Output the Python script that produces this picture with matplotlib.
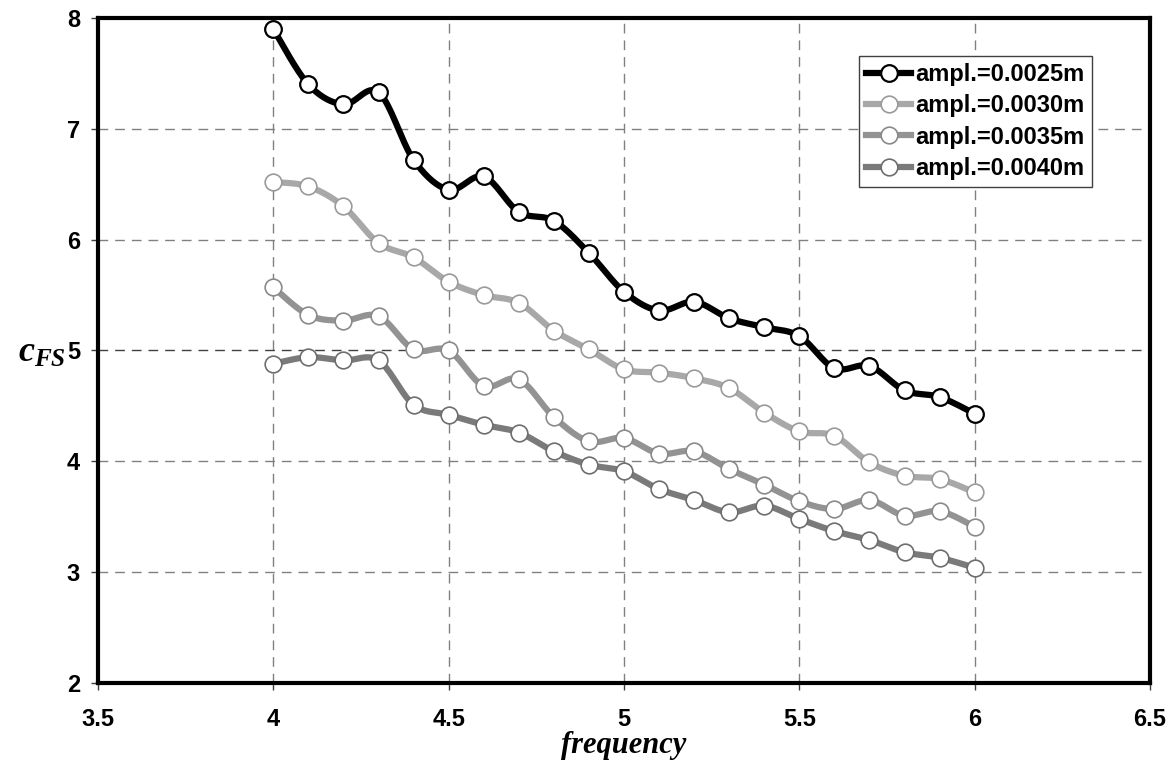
import numpy as np
import matplotlib
matplotlib.use("Agg")
import matplotlib.pyplot as plt

freq = [4.0, 4.1, 4.2, 4.3, 4.4, 4.5, 4.6, 4.7, 4.8, 4.9, 5.0,
        5.1, 5.2, 5.3, 5.4, 5.5, 5.6, 5.7, 5.8, 5.9, 6.0]
c_0025 = [7.90, 7.40, 7.22, 7.33, 6.72, 6.45, 6.57, 6.25, 6.17, 5.88, 5.53,
          5.36, 5.44, 5.29, 5.21, 5.13, 4.84, 4.86, 4.64, 4.58, 4.43]
c_0030 = [6.52, 6.48, 6.30, 5.97, 5.84, 5.62, 5.50, 5.43, 5.18, 5.01, 4.83,
          4.80, 4.75, 4.66, 4.44, 4.27, 4.23, 3.99, 3.87, 3.84, 3.72]
c_0035 = [5.57, 5.32, 5.27, 5.31, 5.01, 5.00, 4.68, 4.74, 4.40, 4.18, 4.21,
          4.07, 4.09, 3.93, 3.79, 3.64, 3.57, 3.65, 3.51, 3.55, 3.41]
c_0040 = [4.88, 4.94, 4.91, 4.91, 4.51, 4.42, 4.33, 4.26, 4.09, 3.97, 3.91,
          3.75, 3.65, 3.54, 3.60, 3.48, 3.37, 3.29, 3.18, 3.13, 3.04]
labels = ["ampl.=0.0025m", "ampl.=0.0030m", "ampl.=0.0035m", "ampl.=0.0040m"]
x_ticks = [3.5, 4, 4.5, 5, 5.5, 6, 6.5]
y_ticks = [2, 3, 4, 5, 6, 7, 8]

series = [c_0025, c_0030, c_0035, c_0040]
line_colors = ["#000000", "#a8a8a8", "#939393", "#7a7a7a"]
edge_colors = ["#000000", "#9a9a9a", "#8a8a8a", "#6e6e6e"]


def smooth(x, y, n=20):
    """Catmull-Rom style smoothing through the data points (like Excel smoothed lines)."""
    x = np.asarray(x, float)
    y = np.asarray(y, float)
    P = np.column_stack([x, y])
    P = np.vstack([P[0], P, P[-1]])
    out = []
    for i in range(1, len(P) - 2):
        p0, p1, p2, p3 = P[i - 1], P[i], P[i + 1], P[i + 2]
        c1 = p1 + (p2 - p0) / 6.0
        c2 = p2 - (p3 - p1) / 6.0
        t = np.linspace(0, 1, n)[:, None]
        seg = ((1 - t) ** 3) * p1 + 3 * ((1 - t) ** 2) * t * c1 + 3 * (1 - t) * t ** 2 * c2 + t ** 3 * p2
        out.append(seg if i == 1 else seg[1:])
    out = np.vstack(out)
    return out[:, 0], out[:, 1]


plt.rcParams['font.family'] = ['Liberation Sans', 'DejaVu Sans']
plt.rcParams['mathtext.fontset'] = 'custom'
plt.rcParams['mathtext.it'] = 'Liberation Serif:italic:bold'
plt.rcParams['mathtext.rm'] = 'Liberation Serif:bold'

fig = plt.figure(figsize=(11.73, 7.71), dpi=100)
ax = fig.add_axes([98 / 1173, 1 - 683 / 771, (1150 - 98) / 1173, (683 - 18) / 771])

ax.set_xlim(3.5, 6.5)
ax.set_ylim(2, 8)
ax.set_xticks(x_ticks)
ax.set_yticks(y_ticks)
ax.set_xticklabels([f"{v:g}" for v in x_ticks])
ax.set_yticklabels([f"{v:g}" for v in y_ticks])

for xv in x_ticks[1:-1]:
    ax.axvline(xv, color="#808080", lw=1.0, dashes=(7, 5), zorder=0)
for yv in y_ticks[1:-1]:
    ax.axhline(yv, color="#404040" if yv == 5 else "#808080", lw=1.0, dashes=(7, 5), zorder=0)

handles = []
for i, (vals, lab) in enumerate(zip(series, labels)):
    sx, sy = smooth(freq, vals)
    ax.plot(sx, sy, color=line_colors[i], lw=4.5, solid_capstyle='round',
            solid_joinstyle='round', zorder=3 if i == 0 else 2)
    ax.plot(freq, vals, linestyle='none', marker='o', markersize=12,
            markerfacecolor='white', markeredgecolor=edge_colors[i],
            markeredgewidth=1.6 if i == 0 else 1.2, zorder=4 if i == 0 else 3)
    h, = ax.plot([], [], color=line_colors[i], lw=4.5, marker='o', markersize=12,
                 markerfacecolor='white', markeredgecolor=edge_colors[i],
                 markeredgewidth=1.6 if i == 0 else 1.2)
    handles.append(h)

for sp in ax.spines.values():
    sp.set_linewidth(3)
    sp.set_color("black")

ax.tick_params(axis='both', direction='out', length=5, width=1, color="#404040",
               labelsize=17, pad=8)
for t in ax.get_xticklabels() + ax.get_yticklabels():
    t.set_fontweight('bold')
ax.tick_params(axis='x', pad=13)

ax.set_xlabel("frequency", fontsize=22, fontstyle='italic', fontweight='bold',
              family=['Liberation Serif'], labelpad=0)
fig.text(42 / 1173, 1 - 352 / 771, r"$c_{FS}$", fontsize=26, ha='center', va='center')

leg = ax.legend(handles, labels, loc='upper left', bbox_to_anchor=(0.7234, 0.943),
                frameon=True, fancybox=False, edgecolor="#404040", framealpha=1,
                prop={'family': 'Liberation Sans', 'weight': 'bold', 'size': 17},
                handlelength=1.9, handletextpad=0.2, borderpad=0.3, labelspacing=0.35,
                borderaxespad=0)
leg.get_frame().set_linewidth(1.0)

fig.savefig("out.png", dpi=100, facecolor="white")
